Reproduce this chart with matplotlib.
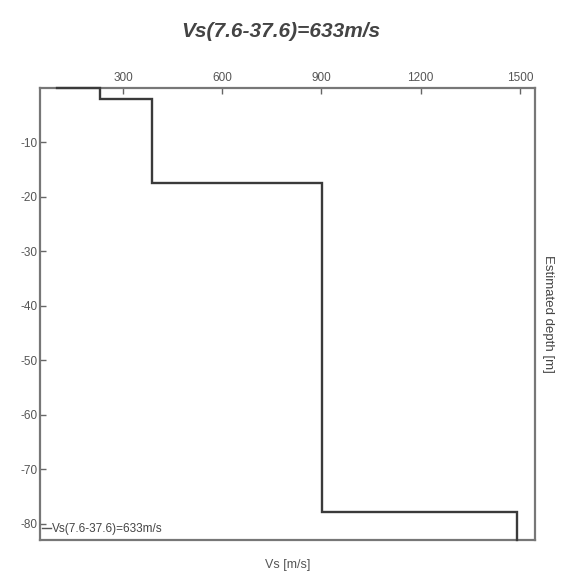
import matplotlib
matplotlib.use("Agg")
import matplotlib.pyplot as plt

# Step profile of shear-wave velocity vs depth
vs_values = [100, 230, 230, 387, 387, 902, 902, 1491, 1491]
depth_values = [0, 0, -2.1, -2.1, -17.5, -17.5, -77.8, -77.8, -83]
x_ticks = [300, 600, 900, 1200, 1500]
y_ticks = [-10, -20, -30, -40, -50, -60, -70, -80]
series_label = "Vs(7.6-37.6)=633m/s"
title_text = "Vs(7.6-37.6)=633m/s"

plt.rcParams['font.family'] = ['Liberation Sans', 'DejaVu Sans']
plt.rcParams['axes.unicode_minus'] = False

fig = plt.figure(figsize=(5.61, 5.77), dpi=100)
ax = fig.add_axes([0.0713, 0.0641, 0.8824, 0.7834])

ax.plot(vs_values, depth_values, color='#3a3a3a', lw=1.7, label=series_label,
        solid_joinstyle='miter', zorder=3, clip_on=False)

ax.set_xlim(49, 1546)
ax.set_ylim(-83, 0)
ax.set_xticks(x_ticks)
ax.set_yticks(y_ticks)
ax.xaxis.tick_top()
ax.tick_params(axis='both', direction='in', length=4, width=1, color='#666666',
               labelsize=8.5, labelcolor='#555555', pad=3)
ax.tick_params(axis='y', pad=2)
for s in ax.spines.values():
    s.set_color('#777777')
    s.set_linewidth(1.6)

ax.set_xlabel("Vs [m/s]", fontsize=9, color='#555555', labelpad=14)
ax.xaxis.set_label_position('bottom')
ax.yaxis.set_label_position('right')
ax.set_ylabel("Estimated depth [m]", fontsize=9.5, color='#444444',
              rotation=-90, labelpad=14)

leg = ax.legend(loc='lower left', bbox_to_anchor=(0.0, 0.005), frameon=False,
                fontsize=8.5, handlelength=0.7, handletextpad=0.1,
                borderaxespad=0.1, borderpad=0.1)
for line in leg.get_lines():
    line.set_linewidth(1.0)
    line.set_color('#555555')
for t in leg.get_texts():
    t.set_color('#444444')

fig.text(0.5, 0.945, title_text, ha='center', va='center', fontsize=15,
         fontweight='bold', fontstyle='italic', color='#444444')

fig.savefig("out.png", dpi=100)
